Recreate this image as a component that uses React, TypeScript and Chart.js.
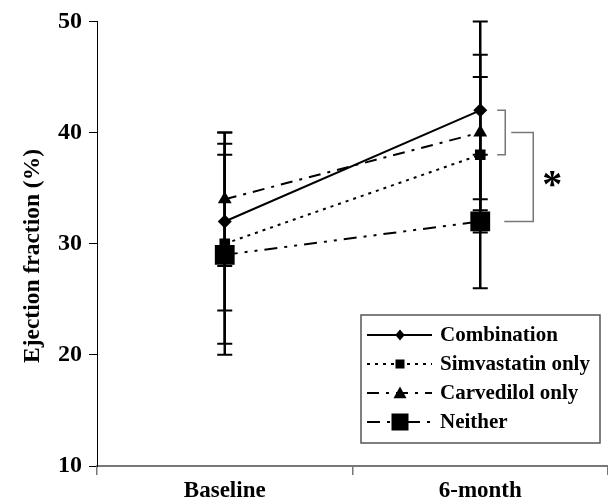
import React, { useEffect, useRef } from "react";
import { Chart, registerables } from "chart.js";

Chart.register(...registerables);

const categories = ["Baseline", "6-month"];
const seriesNames = ["Combination", "Simvastatin only", "Carvedilol only", "Neither"];
const combination = [32, 42];
const combinationErr = [8, 8];
const simvastatin = [30, 38];
const simvastatinErr = [9, 7];
const carvedilol = [34, 40];
const carvedilolErr = [6, 7];
const neither = [29, 32];
const neitherErr = [9, 6];
const yMin = 10;
const yMax = 50;
const yStep = 10;
const yTitle = "Ejection fraction (%)";
const bracketSmall = [42, 38];
const bracketLarge = [40, 32];
const sigMark = "*";

const FONT = "'Liberation Serif', 'Times New Roman', serif";
const errs = [combinationErr, simvastatinErr, carvedilolErr, neitherErr];
const dashes = [[], [3, 5], [12, 7, 3, 7], [13, 7, 3, 7, 3, 7]];
const markerKinds = ["diamond", "square", "triangle", "bigsquare"];

function drawMarker(ctx: CanvasRenderingContext2D, kind: string, x: number, y: number, s: number) {
  ctx.save();
  ctx.setLineDash([]);
  ctx.fillStyle = "#000";
  ctx.beginPath();
  if (kind === "diamond") {
    ctx.moveTo(x, y - s);
    ctx.lineTo(x + s * 0.85, y);
    ctx.lineTo(x, y + s);
    ctx.lineTo(x - s * 0.85, y);
    ctx.closePath();
  } else if (kind === "square" || kind === "bigsquare") {
    ctx.rect(x - s, y - s, 2 * s, 2 * s);
  } else if (kind === "triangle") {
    ctx.moveTo(x, y - s);
    ctx.lineTo(x + s, y + s * 0.8);
    ctx.lineTo(x - s, y + s * 0.8);
    ctx.closePath();
  }
  ctx.fill();
  ctx.restore();
}

const extrasPlugin = {
  id: "extras",
  beforeDatasetsDraw(chart: any) {
    const ctx = chart.ctx as CanvasRenderingContext2D;
    const xs = chart.scales.x;
    const ys = chart.scales.y;
    ctx.save();
    ctx.strokeStyle = "#000";
    ctx.setLineDash([]);
    chart.data.datasets.forEach((ds: any, i: number) => {
      ds.data.forEach((v: number, j: number) => {
        const e = errs[i][j];
        const x = xs.getPixelForValue(j);
        const yt = ys.getPixelForValue(v + e);
        const yb = ys.getPixelForValue(v - e);
        ctx.lineWidth = 2.5;
        ctx.beginPath();
        ctx.moveTo(x, yt);
        ctx.lineTo(x, yb);
        ctx.stroke();
        ctx.lineWidth = 2;
        ctx.beginPath();
        ctx.moveTo(x - 7.5, yt);
        ctx.lineTo(x + 7.5, yt);
        ctx.moveTo(x - 7.5, yb);
        ctx.lineTo(x + 7.5, yb);
        ctx.stroke();
      });
    });
    ctx.restore();
  },
  afterDraw(chart: any) {
    const ctx = chart.ctx as CanvasRenderingContext2D;
    const xs = chart.scales.x;
    const ys = chart.scales.y;
    ctx.save();
    // y-axis title
    ctx.save();
    ctx.translate(33, 256);
    ctx.rotate(-Math.PI / 2);
    ctx.font = `bold 23.5px ${FONT}`;
    ctx.fillStyle = "#000";
    ctx.textAlign = "center";
    ctx.textBaseline = "middle";
    ctx.fillText(yTitle, 0, 0);
    ctx.restore();

    // brackets
    const x6 = xs.getPixelForValue(1);
    ctx.strokeStyle = "#777";
    ctx.lineWidth = 1.5;
    ctx.setLineDash([]);
    const s1 = ys.getPixelForValue(bracketSmall[0]);
    const s2 = ys.getPixelForValue(bracketSmall[1]);
    ctx.beginPath();
    ctx.moveTo(x6 + 17, s1);
    ctx.lineTo(x6 + 25, s1);
    ctx.lineTo(x6 + 25, s2);
    ctx.lineTo(x6 + 17, s2);
    ctx.stroke();
    const l1 = ys.getPixelForValue(bracketLarge[0]);
    const l2 = ys.getPixelForValue(bracketLarge[1]);
    ctx.beginPath();
    ctx.moveTo(x6 + 31, l1);
    ctx.lineTo(x6 + 53, l1);
    ctx.lineTo(x6 + 53, l2);
    ctx.lineTo(x6 + 24, l2);
    ctx.stroke();

    // asterisk
    ctx.font = `bold 40px ${FONT}`;
    ctx.fillStyle = "#000";
    ctx.textAlign = "center";
    ctx.textBaseline = "alphabetic";
    const m = ctx.measureText(sigMark);
    const cy = (l1 + l2) / 2 + 2;
    const base = cy + (m.actualBoundingBoxAscent - m.actualBoundingBoxDescent) / 2;
    ctx.fillText(sigMark, x6 + 72, base);

    // legend
    const bx = 361, by = 315, bw = 239, bh = 128;
    ctx.strokeStyle = "#555";
    ctx.lineWidth = 1.5;
    ctx.strokeRect(bx, by, bw, bh);
    const rows = [335, 364, 393, 422];
    const sizes = [5.5, 4.5, 6.5, 8.5];
    seriesNames.forEach((name, i) => {
      const y = rows[i];
      ctx.strokeStyle = "#000";
      ctx.lineWidth = 2;
      ctx.setLineDash(dashes[i]);
      ctx.beginPath();
      ctx.moveTo(367, y);
      ctx.lineTo(432, y);
      ctx.stroke();
      drawMarker(ctx, markerKinds[i], 400, y, sizes[i]);
      ctx.setLineDash([]);
      ctx.font = `bold 21px ${FONT}`;
      ctx.fillStyle = "#000";
      ctx.textAlign = "left";
      ctx.textBaseline = "middle";
      ctx.fillText(name, 440, y + 1);
    });
    ctx.restore();
  },
};

export default function App() {
  const ref = useRef<HTMLCanvasElement>(null);
  useEffect(() => {
    if (!ref.current) return;
    const mk = (label: string, data: number[], i: number, style: string, r: number) => ({
      label,
      data,
      borderColor: "#000",
      backgroundColor: "#000",
      borderWidth: 2,
      borderDash: dashes[i],
      pointStyle: style,
      pointRadius: r,
      pointHoverRadius: r,
      pointBorderWidth: 0,
      pointBackgroundColor: "#000",
      tension: 0,
    });
    const chart = new Chart(ref.current, {
      type: "line",
      data: {
        labels: categories,
        datasets: [
          mk(seriesNames[0], combination, 0, "rectRot", 7),
          mk(seriesNames[1], simvastatin, 1, "rect", 7.5),
          mk(seriesNames[2], carvedilol, 2, "triangle", 8),
          mk(seriesNames[3], neither, 3, "rect", 14),
        ],
      },
      options: {
        animation: false,
        responsive: true,
        maintainAspectRatio: false,
        layout: { autoPadding: false, padding: { top: 21, right: 0, left: 0, bottom: 0 } },
        plugins: { legend: { display: false }, tooltip: { enabled: false } },
        scales: {
          x: {
            offset: true,
            grid: { display: true, drawOnChartArea: false, offset: true, color: "#777", tickLength: 9, lineWidth: 1.5 },
            border: { display: true, color: "#777", width: 2 },
            ticks: { color: "#000", font: { family: FONT, weight: "bold", size: 23 }, padding: 2 },
            afterFit: (s: any) => { s.height = 34; s.paddingLeft = 0; s.paddingRight = 0; },
          },
          y: {
            min: yMin,
            max: yMax,
            grid: { display: true, drawOnChartArea: false, color: "#000", tickLength: 8, lineWidth: 1 },
            border: { display: true, color: "#000", width: 1 },
            ticks: { stepSize: yStep, color: "#000", font: { family: FONT, weight: "bold", size: 24 }, padding: 7 },
            afterFit: (s: any) => { s.width = 97; },
          },
        },
      },
      plugins: [extrasPlugin],
    } as any);
    return () => chart.destroy();
  }, []);
  return (
    <div style={{ position: "absolute", left: 0, top: 0, width: 608, height: 500 }}>
      <canvas ref={ref} />
    </div>
  );
}
